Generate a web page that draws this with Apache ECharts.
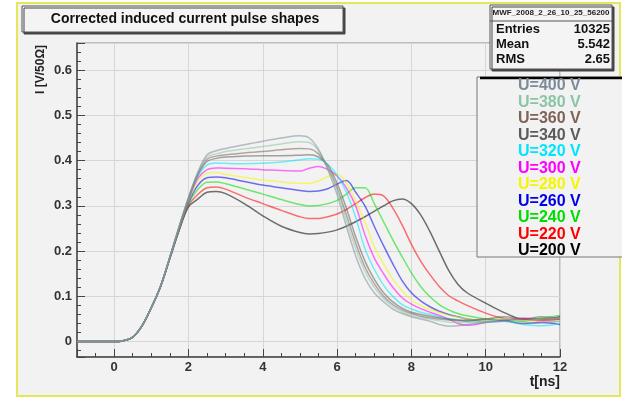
<!DOCTYPE html>
<html>
<head>
<meta charset="utf-8">
<script src="https://cdn.jsdelivr.net/npm/echarts@6/dist/echarts.min.js"></script>
<style>
  html, body { margin: 0; padding: 0; background: #fff; }
  #chart { width: 622px; height: 398px; }
</style>
</head>
<body>
<div id="chart"></div>
<script>
// time axis samples (ns)
const times = [-1, -0.5, 0, 0.25, 0.5, 0.75, 1, 1.25, 1.5, 1.75, 2, 2.25, 2.5, 2.75, 3, 3.5, 4, 4.5, 5, 5.25,
  5.5, 5.75, 6, 6.25, 6.5, 6.75, 7, 7.25, 7.5, 7.75, 8, 8.25, 8.5, 8.75, 9, 9.25, 9.5, 10, 10.5, 11, 11.5, 12];

// pulse amplitude I [V/50 Ohm] per bias voltage
const u200 = [0, 0, 0, 0.002, 0.01, 0.035, 0.075, 0.122, 0.184, 0.246, 0.298, 0.315, 0.33, 0.332, 0.327, 0.305, 0.278, 0.255, 0.241, 0.238,
  0.239, 0.242, 0.247, 0.255, 0.265, 0.276, 0.288, 0.3, 0.311, 0.315, 0.305, 0.28, 0.243, 0.2, 0.158, 0.127, 0.108, 0.085, 0.064, 0.05, 0.05, 0.055];
const u220 = [0, 0, 0, 0.002, 0.01, 0.035, 0.075, 0.122, 0.184, 0.247, 0.301, 0.325, 0.34, 0.342, 0.337, 0.32, 0.305, 0.29, 0.276, 0.272,
  0.272, 0.276, 0.282, 0.292, 0.305, 0.318, 0.326, 0.322, 0.295, 0.258, 0.215, 0.178, 0.148, 0.122, 0.102, 0.09, 0.08, 0.063, 0.051, 0.048, 0.05, 0.052];
const u240 = [0, 0, 0, 0.002, 0.01, 0.035, 0.075, 0.122, 0.185, 0.248, 0.304, 0.336, 0.352, 0.353, 0.349, 0.338, 0.326, 0.314, 0.303, 0.3,
  0.301, 0.305, 0.312, 0.326, 0.34, 0.34, 0.305, 0.265, 0.225, 0.188, 0.152, 0.122, 0.099, 0.082, 0.07, 0.062, 0.057, 0.05, 0.048, 0.045, 0.052, 0.058];
const u260 = [0, 0, 0, 0.002, 0.01, 0.035, 0.075, 0.122, 0.185, 0.249, 0.307, 0.345, 0.362, 0.364, 0.362, 0.354, 0.346, 0.34, 0.334, 0.332,
  0.333, 0.338, 0.348, 0.356, 0.33, 0.3, 0.255, 0.212, 0.172, 0.135, 0.108, 0.09, 0.077, 0.067, 0.06, 0.055, 0.05, 0.045, 0.046, 0.04, 0.042, 0.038];
const u280 = [0, 0, 0, 0.002, 0.01, 0.035, 0.075, 0.123, 0.186, 0.25, 0.31, 0.353, 0.372, 0.374, 0.37, 0.363, 0.357, 0.353, 0.35, 0.35,
  0.355, 0.365, 0.37, 0.35, 0.31, 0.265, 0.21, 0.172, 0.138, 0.112, 0.092, 0.08, 0.071, 0.064, 0.058, 0.054, 0.05, 0.046, 0.05, 0.047, 0.045, 0.048];
const u300 = [0, 0, 0, 0.002, 0.01, 0.035, 0.075, 0.123, 0.186, 0.251, 0.312, 0.36, 0.38, 0.384, 0.383, 0.382, 0.38, 0.378, 0.377, 0.383,
  0.387, 0.38, 0.366, 0.34, 0.3, 0.236, 0.185, 0.15, 0.12, 0.097, 0.083, 0.073, 0.065, 0.058, 0.05, 0.04, 0.036, 0.042, 0.048, 0.05, 0.046, 0.05];
const u320 = [0, 0, 0, 0.002, 0.01, 0.035, 0.075, 0.123, 0.186, 0.252, 0.314, 0.365, 0.39, 0.395, 0.394, 0.393, 0.394, 0.397, 0.402, 0.404,
  0.403, 0.392, 0.368, 0.33, 0.275, 0.205, 0.16, 0.125, 0.1, 0.082, 0.072, 0.065, 0.06, 0.055, 0.05, 0.048, 0.045, 0.043, 0.045, 0.038, 0.035, 0.04];
const u340 = [0, 0, 0, 0.002, 0.01, 0.035, 0.075, 0.123, 0.187, 0.253, 0.316, 0.368, 0.398, 0.405, 0.408, 0.41, 0.411, 0.411, 0.412, 0.413,
  0.408, 0.39, 0.35, 0.295, 0.232, 0.178, 0.138, 0.108, 0.088, 0.074, 0.065, 0.06, 0.056, 0.053, 0.05, 0.048, 0.047, 0.05, 0.055, 0.05, 0.055, 0.05];
const u360 = [0, 0, 0, 0.002, 0.01, 0.035, 0.075, 0.123, 0.187, 0.254, 0.317, 0.37, 0.403, 0.41, 0.413, 0.417, 0.42, 0.424, 0.427, 0.426,
  0.415, 0.385, 0.34, 0.28, 0.218, 0.165, 0.128, 0.1, 0.082, 0.07, 0.062, 0.056, 0.052, 0.05, 0.048, 0.046, 0.045, 0.05, 0.047, 0.052, 0.048, 0.05];
const u380 = [0, 0, 0, 0.002, 0.01, 0.035, 0.075, 0.123, 0.187, 0.255, 0.318, 0.372, 0.408, 0.415, 0.42, 0.426, 0.431, 0.437, 0.442, 0.44,
  0.422, 0.385, 0.335, 0.268, 0.205, 0.155, 0.12, 0.095, 0.078, 0.066, 0.058, 0.053, 0.05, 0.046, 0.043, 0.042, 0.042, 0.045, 0.05, 0.046, 0.05, 0.052];
const u400 = [0, 0, 0, 0.002, 0.01, 0.035, 0.075, 0.123, 0.187, 0.255, 0.318, 0.374, 0.413, 0.422, 0.427, 0.435, 0.443, 0.45, 0.455, 0.45,
  0.425, 0.38, 0.325, 0.255, 0.19, 0.14, 0.108, 0.088, 0.072, 0.062, 0.055, 0.05, 0.045, 0.038, 0.034, 0.035, 0.038, 0.042, 0.045, 0.04, 0.042, 0.045];

const labels = ['U=400 V', 'U=380 V', 'U=360 V', 'U=340 V', 'U=320 V', 'U=300 V', 'U=280 V', 'U=260 V', 'U=240 V', 'U=220 V', 'U=200 V'];
const values = [u400, u380, u360, u340, u320, u300, u280, u260, u240, u220, u200];
const colors = ['#7e8c9a', '#8cc4a6', '#7e6458', '#5c5c5c', '#00e5ff', '#ff00ff', '#f5f500', '#0000e8', '#00dd00', '#ff0000', '#000000'];

const statNames = ['Entries', 'Mean', 'RMS'];
const statValues = ['10325', '5.542', '2.65'];

const FONT = "'Liberation Sans Narrow', 'Liberation Sans', Arial, sans-serif";

const chart = echarts.init(document.getElementById('chart'));

const series = [];
for (let i = values.length - 1; i >= 0; i--) {
  series.push({
    name: labels[i],
    type: 'line',
    data: times.map((t, k) => [t, values[i][k]]),
    showSymbol: false,
    smooth: 0.35,
    lineStyle: { color: colors[i], width: 1.5, opacity: 0.55 },
    itemStyle: { color: colors[i] },
    z: 3
  });
}

const statTexts = [];
statNames.forEach((n, i) => {
  statTexts.push({
    type: 'text', x: 496, y: 29 + i * 15, z: 31,
    style: { text: n, fill: '#111', font: 'bold 13px ' + FONT, textVerticalAlign: 'middle' }
  });
  statTexts.push({
    type: 'text', x: 610, y: 29 + i * 15, z: 31,
    style: { text: statValues[i], fill: '#111', font: 'bold 13px ' + FONT, textAlign: 'right', textVerticalAlign: 'middle' }
  });
});

chart.setOption({
  backgroundColor: '#ffffff',
  animation: false,
  title: {
    text: 'Corrected induced current pulse shapes',
    left: 185,
    top: 12,
    textAlign: 'center',
    padding: 0,
    z: 31,
    textStyle: { fontSize: 14, fontWeight: 'bold', color: '#111', fontFamily: FONT }
  },
  legend: {
    orient: 'vertical',
    left: 513,
    top: 78,
    padding: 0,
    itemGap: 0.5,
    itemWidth: 0,
    itemHeight: 14,
    icon: 'none',
    selectedMode: false,
    z: 40,
    textStyle: { fontSize: 16, fontWeight: 'bold', fontFamily: FONT },
    data: labels.map((l, i) => ({ name: l, textStyle: { color: colors[i] } }))
  },
  grid: {
    left: 77, top: 43, width: 483, height: 314,
    show: true, borderColor: '#8a8a8a', borderWidth: 1, backgroundColor: 'transparent'
  },
  xAxis: {
    type: 'value',
    min: -1,
    max: 12,
    splitNumber: 6,
    name: 't[ns]',
    nameLocation: 'end',
    nameGap: 0,
    nameTextStyle: { align: 'right', verticalAlign: 'top', padding: [18, 0, 0, 0], fontSize: 14, fontWeight: 'bold', color: '#222', fontFamily: FONT },
    axisLine: { onZero: false, lineStyle: { color: '#444', width: 1.5 } },
    axisTick: { inside: true, length: 8, lineStyle: { color: '#444' } },
    minorTick: { show: true, splitNumber: 4, length: 4, lineStyle: { color: '#444' } },
    axisLabel: { showMinLabel: false, showMaxLabel: true, margin: 4, fontSize: 13, fontWeight: 'bold', color: '#333', fontFamily: FONT },
    splitLine: { show: true, lineStyle: { color: '#d6d6d6', width: 1 } }
  },
  yAxis: {
    type: 'value',
    min: -0.034,
    max: 0.66,
    splitNumber: 7,
    name: 'I [V/50\u03A9]',
    nameLocation: 'end',
    nameGap: 0,
    nameRotate: 90,
    nameTextStyle: { align: 'right', verticalAlign: 'bottom', padding: [0, 2, 30, 0], fontSize: 12, fontWeight: 'bold', color: '#222', fontFamily: FONT },
    axisLine: { onZero: false, lineStyle: { color: '#444', width: 1.5 } },
    axisTick: { inside: true, length: 8, lineStyle: { color: '#444' } },
    minorTick: { show: true, splitNumber: 5, length: 4, lineStyle: { color: '#444' } },
    axisLabel: { showMinLabel: false, showMaxLabel: false, margin: 5, fontSize: 13, fontWeight: 'bold', color: '#333', fontFamily: FONT },
    splitLine: { show: true, lineStyle: { color: '#d6d6d6', width: 1 } }
  },
  graphic: [
    // pad frame
    { type: 'rect', z: -5, shape: { x: 17, y: 3, width: 603, height: 393 },
      style: { fill: '#f2f2f2', stroke: '#e6e65a', lineWidth: 2 } },
    // title box
    { type: 'rect', z: 30, shape: { x: 22, y: 6, width: 321, height: 26 },
      style: { fill: '#f4f4f4', stroke: '#555', lineWidth: 1, shadowColor: '#444', shadowOffsetX: 2, shadowOffsetY: 2 } },
    // stats box
    { type: 'rect', z: 30, shape: { x: 490, y: 5, width: 122, height: 64 },
      style: { fill: '#f4f4f4', stroke: '#555', lineWidth: 1, shadowColor: '#444', shadowOffsetX: 2, shadowOffsetY: 2 } },
    { type: 'line', z: 31, shape: { x1: 490, y1: 21, x2: 612, y2: 21 }, style: { stroke: '#555', lineWidth: 1 } },
    { type: 'text', x: 551, y: 13, z: 31,
      style: { text: 'MWF_2008_2_26_10_25_56200', fill: '#222', font: 'bold 8px ' + FONT, textAlign: 'center', textVerticalAlign: 'middle' } },
    ...statTexts,
    // legend box
    { type: 'rect', z: 30, shape: { x: 477, y: 77, width: 150, height: 180 },
      style: { fill: '#f2f2f2', stroke: '#777', lineWidth: 1 } },
    { type: 'line', z: 31, shape: { x1: 480, y1: 78, x2: 622, y2: 78 }, style: { stroke: '#000', lineWidth: 2.5 } }
  ],
  series: series
});
</script>
</body>
</html>
